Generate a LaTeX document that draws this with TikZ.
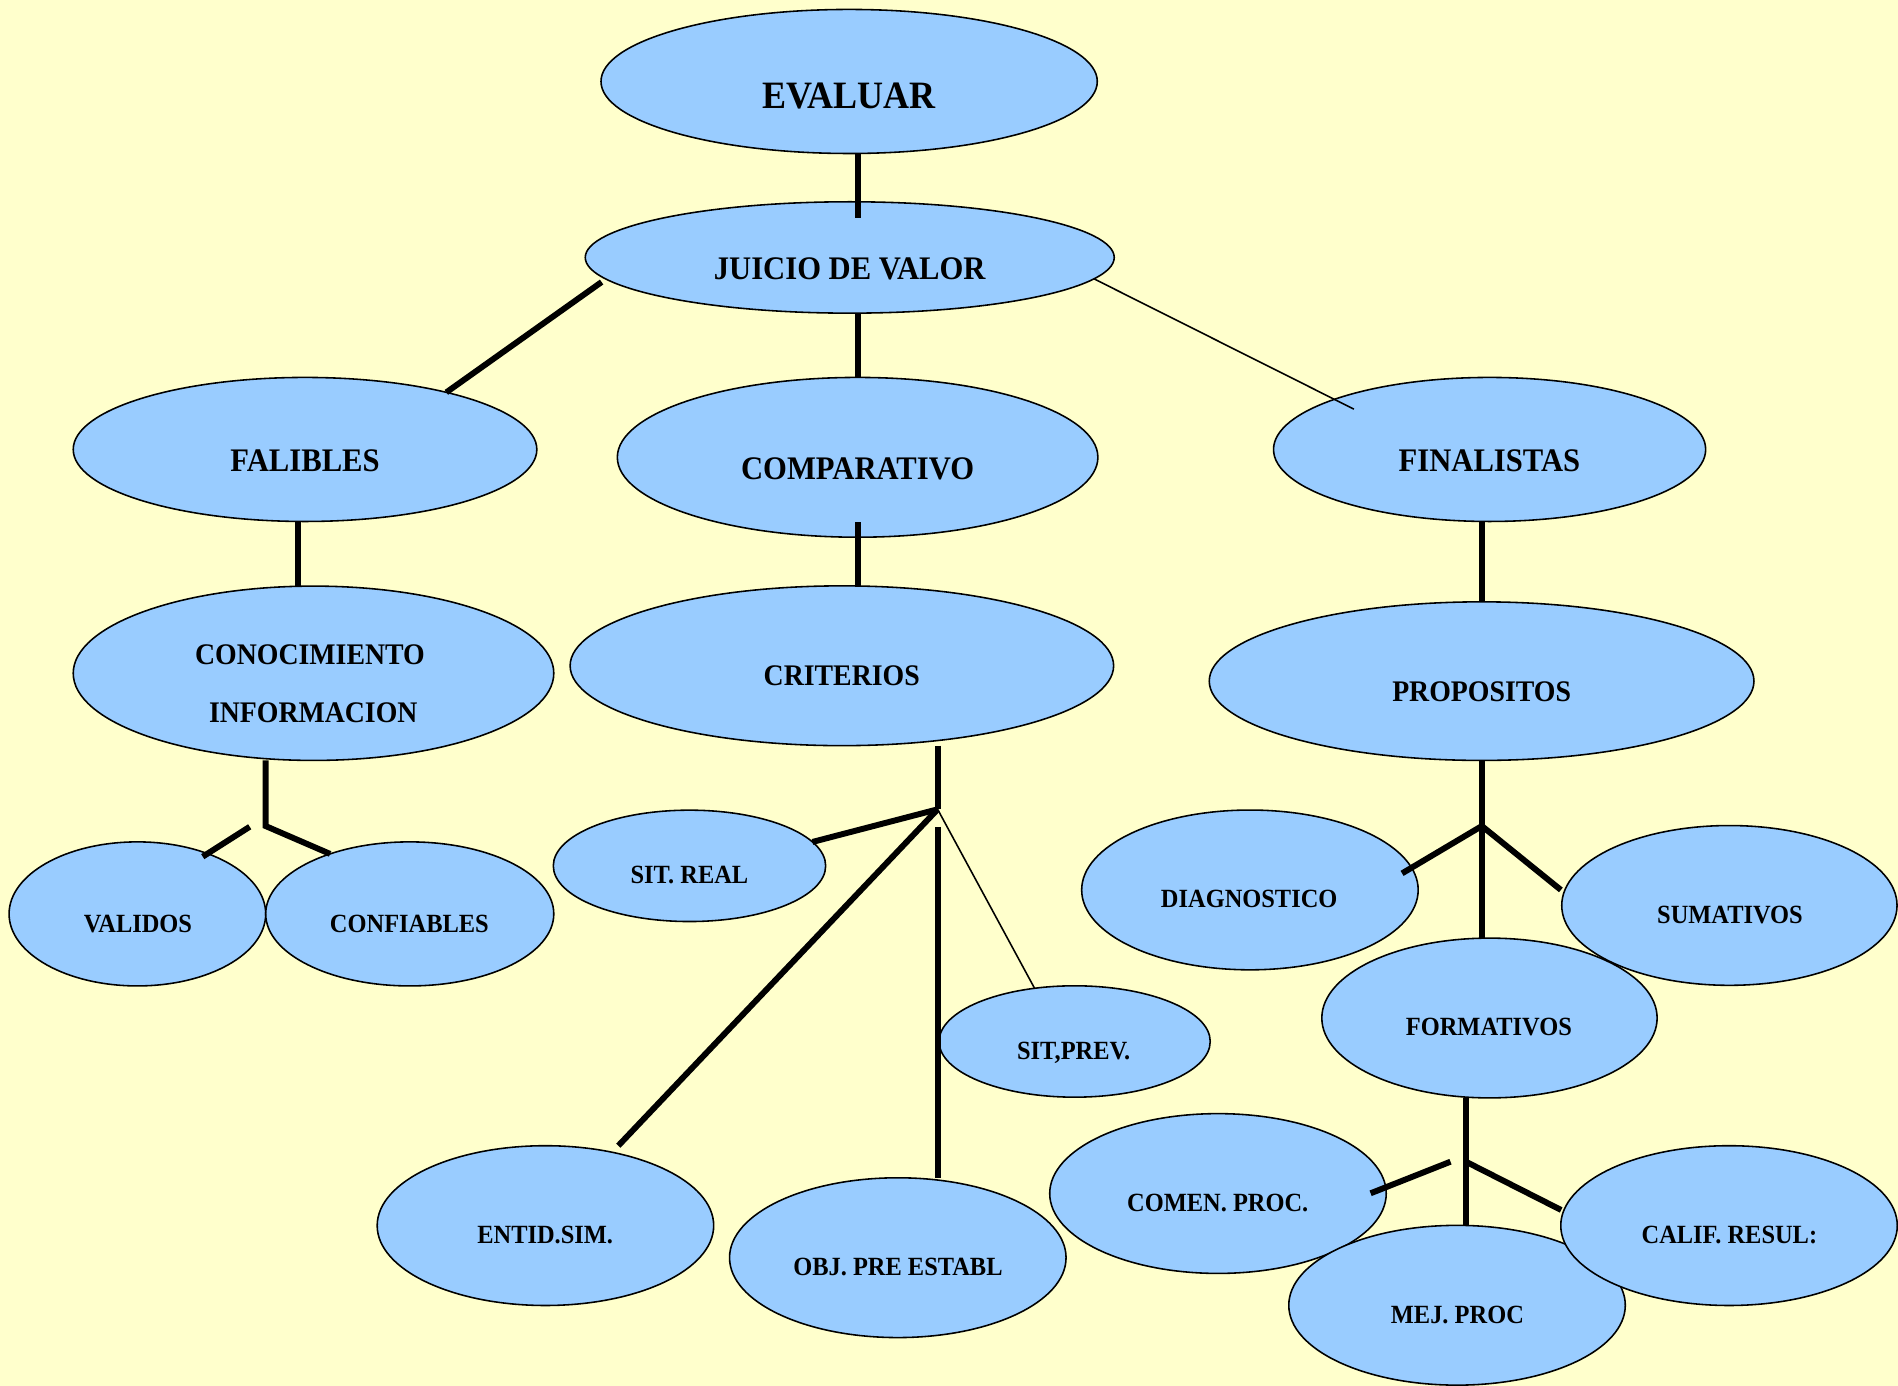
\documentclass[tikz,border=0pt]{standalone}
\usepackage{fontspec}
\setmainfont{Liberation Serif}[FakeStretch=0.93]
\usetikzlibrary{shapes.geometric,calc}
\definecolor{bgcol}{HTML}{FFFFCC}
\definecolor{ellfill}{HTML}{99CCFF}
\tikzset{
  ell/.style={ellipse, draw=black, line width=1.3pt, fill=ellfill, inner sep=0pt, outer sep=0pt},
  lab/.style={inner sep=0pt, outer sep=0pt, anchor=base, text=black},
  fA/.style={lab, font=\bfseries\fontsize{32}{38}\selectfont},
  fB/.style={lab, font=\bfseries\fontsize{27.2}{32}\selectfont},
  fC/.style={lab, font=\bfseries\fontsize{24.7}{30}\selectfont},
  fD/.style={lab, font=\bfseries\fontsize{21.7}{26}\selectfont},
  link/.style={line width=4.9pt},
  thinlink/.style={line width=1.3pt},
}
\begin{document}
\begin{tikzpicture}[x=1pt,y=-1pt]
\fill[bgcol] (0,0) rectangle (1568,1145);
\useasboundingbox (0,0) rectangle (1568,1145);

% ellipses
\node[ell, minimum width=410, minimum height=119] (ev) at (701.5,67.3) {};
\node[ell, minimum width=437, minimum height=92]  (jv) at (702,212.7) {};
\node[ell, minimum width=383, minimum height=119] (fa) at (252,371.3) {};
\node[ell, minimum width=397, minimum height=132] (co) at (708.5,377.8) {};
\node[ell, minimum width=357, minimum height=119] (fi) at (1230.6,371.3) {};
\node[ell, minimum width=397, minimum height=144] (cn) at (259,556.2) {};
\node[ell, minimum width=449, minimum height=132] (cr) at (695.5,550) {};
\node[ell, minimum width=450, minimum height=131] (pr) at (1224,562.7) {};
\node[ell, minimum width=225, minimum height=92]  (sr) at (569.6,715.3) {};
\node[ell, minimum width=212, minimum height=119] (va) at (113.5,755) {};
\node[ell, minimum width=238, minimum height=119] (cf) at (338.5,755) {};
\node[ell, minimum width=278, minimum height=132] (di) at (1032.6,735.2) {};
\node[ell, minimum width=277, minimum height=132] (fo) at (1230.5,841) {};
\node[ell, minimum width=277, minimum height=132] (su) at (1428.7,748) {};
\node[ell, minimum width=224, minimum height=92]  (sp) at (887.8,860.4) {};
\node[ell, minimum width=278, minimum height=132] (en) at (450.6,1012.5) {};
\node[ell, minimum width=278, minimum height=132] (ob) at (741.7,1039) {};
\node[ell, minimum width=278, minimum height=132] (cm) at (1006.2,986) {};
\node[ell, minimum width=278, minimum height=132] (mj) at (1203.7,1078.3) {};
\node[ell, minimum width=278, minimum height=132] (ca) at (1428.4,1012.5) {};

% labels
\node[fA] (evt) at (701.5,89.6) {EVALUAR};
\node[fB] (jvt) at (702,230.7) {JUICIO DE VALOR};
\node[fB] (fat) at (252,389.7) {FALIBLES};
\node[fB] (cot) at (708.5,396.3) {COMPARATIVO};
\node[fB] (fit) at (1230.5,389.7) {FINALISTAS};
\node[fC] (cnt1) at (256.1,549.2) {CONOCIMIENTO};
\node[fC] (cnt2) at (258.8,597.2) {INFORMACION};
\node[fC] (crt) at (695.4,566.7) {CRITERIOS};
\node[fC] (prt) at (1224,579.6) {PROPOSITOS};
\node[fD] (srt) at (569.6,730.2) {SIT. REAL};
\node[fD] (vat) at (114,770) {VALIDOS};
\node[fD] (cft) at (338.2,770) {CONFIABLES};
\node[fD] (dit) at (1032,749.7) {DIAGNOSTICO};
\node[fD] (sut) at (1429.2,763.2) {SUMATIVOS};
\node[fD] (fot) at (1230,855.2) {FORMATIVOS};
\node[fD] (spt) at (887,875) {SIT,PREV.};
\node[fD] (cmt) at (1006,1001.2) {COMEN. PROC.};
\node[fD] (cat) at (1428.7,1027.2) {CALIF. RESUL:};
\node[fD] (mjt) at (1204,1093.5) {MEJ. PROC};
\node[fD] (ent) at (450.4,1027.2) {ENTID.SIM.};
\node[fD] (obt) at (741.8,1054) {OBJ. PRE ESTABL};

% connector points
\coordinate (a1) at (708.6,180);
\coordinate (a2) at (708.6,0);
\coordinate (c4) at (1118.5,338);
\coordinate (a5) at (246,0);
\coordinate (a6) at (708.5,431.5);
\coordinate (a7) at (1224.3,0);
\coordinate (j8) at (219.4,682.4);
\coordinate (k8) at (206.3,683);
\coordinate (m8) at (167.5,707.7);
\coordinate (j9) at (774.6,668.6);
\coordinate (v9) at (774.6,683);
\coordinate (e9) at (510.8,946.5);
\coordinate (j10) at (1224.2,682.4);
\coordinate (d10) at (1158.3,721.5);
\coordinate (s10) at (1289.5,735.2);
\coordinate (j11) at (1211,959.7);
\coordinate (r11) at (1289.7,999.6);
\coordinate (k11) at (1198.3,959.7);
\coordinate (m11) at (1132.3,985.8);
\coordinate (b0) at (497,233);

% connectors
\draw[link] (ev.south -| a1) -- (a1);
\draw[link] (b0) -- (fa.22);
\draw[link] (jv.south -| a2) -- (co.north -| a2);
\draw[thinlink] (jv.355.4) -- (c4);
\draw[link] (fa.south -| a5) -- (cn.north -| a5);
\draw[link] (a6) -- (cr.north -| a6);
\draw[link] (fi.south -| a7) -- (pr.north -| a7);
\draw[link] (cn.south -| j8) -- (j8) -- (cf.143.8);
\draw[link] (k8) -- (m8);
\draw[link] (cr.south -| j9) -- (j9);
\draw[link] (j9) -- (sr.11.4);
\draw[link] (j9) -- (e9);
\draw[link] (v9) -- (ob.north -| v9);
\draw[thinlink] (j9) -- (sp.127.9);
\draw[link] (pr.south -| j10) -- (fo.north -| j10);
\draw[link] (d10) -- (j10) -- (s10);
\draw[link] (fo.south -| j11) -- (mj.north -| j11);
\draw[link] (j11) -- (r11);
\draw[link] (k11) -- (m11);
\end{tikzpicture}
\end{document}
